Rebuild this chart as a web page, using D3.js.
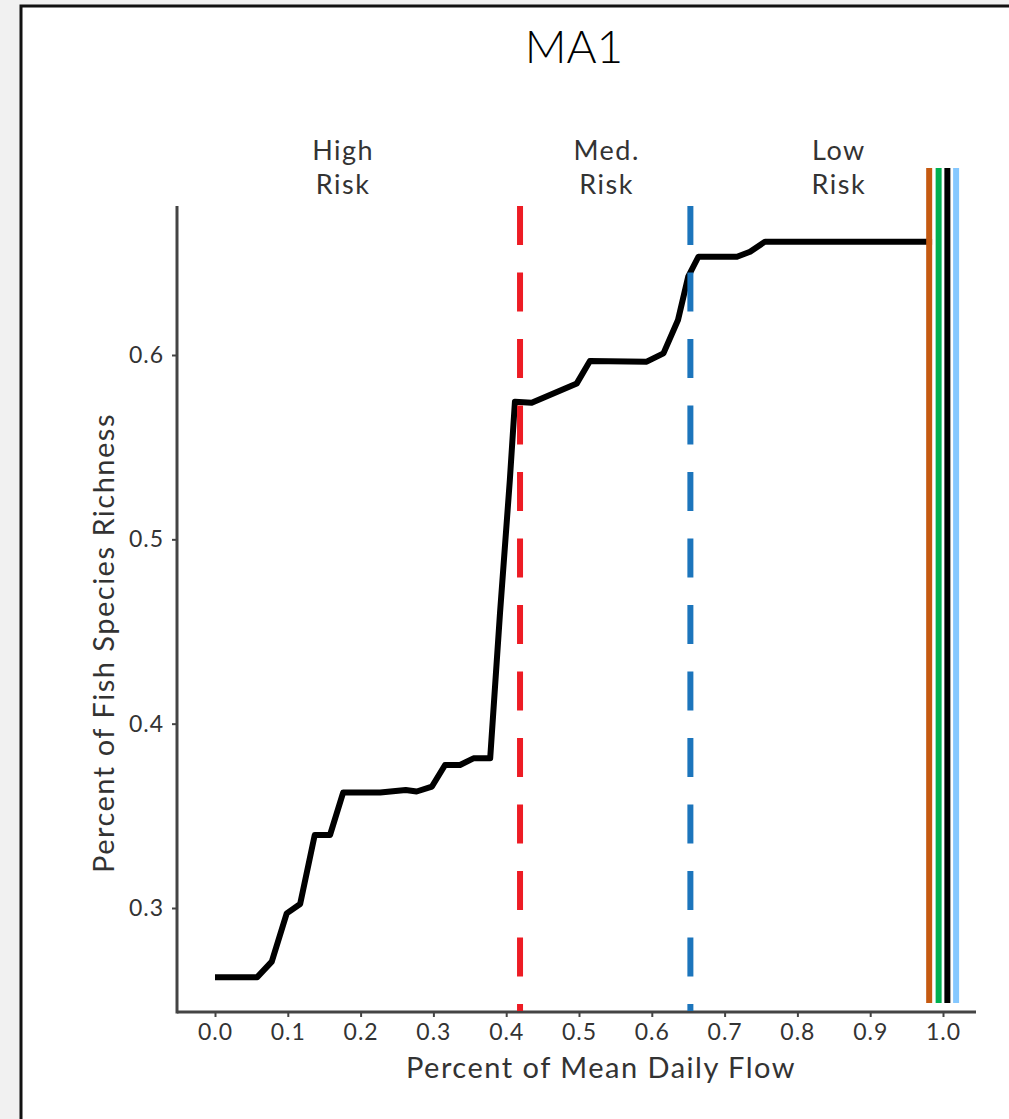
<!DOCTYPE html>
<meta charset="utf-8">
<script src="https://d3js.org/d3.v7.min.js"></script>
<style>
  body { margin: 0; background: #f1f1f1; }
  text { font-family: "Century Gothic", Lato, sans-serif; fill: #333; }
</style>
<div id="chart"></div>
<script>

// flow vs. fish species richness curve
var flow     = [0.0, 0.058, 0.078, 0.0985, 0.117, 0.137, 0.158, 0.176, 0.227, 0.262, 0.277, 0.298, 0.316, 0.3365, 0.355, 0.378, 0.3915, 0.405, 0.412, 0.435, 0.497, 0.515, 0.593, 0.616, 0.636, 0.650, 0.664, 0.717, 0.735, 0.7555, 0.985];
var richness = [0.2625, 0.2625, 0.2709, 0.2971, 0.3022, 0.3396, 0.3396, 0.3626, 0.3627, 0.3640, 0.3632, 0.3659, 0.3776, 0.3776, 0.3812, 0.3812, 0.46, 0.5322, 0.5747, 0.5741, 0.5846, 0.5967, 0.5964, 0.6009, 0.619, 0.6425, 0.6533, 0.6533, 0.656, 0.6615, 0.6615];

// risk thresholds (dashed)
var thresholds = [0.419, 0.653];
var thresholdColors = ["#ED1C24", "#1C75BC"];

// reference lines at the right
var refLines = [0.981, 0.994, 1.006, 1.018];
var refColors = ["#C55A11", "#00B050", "#000000", "#85C8FF"];

var riskLabels = [["High", "Risk"], ["Med.", "Risk"], ["Low", "Risk"]];
var riskPos = [0.176, 0.538, 0.857];

var xTicks = [0.0, 0.1, 0.2, 0.3, 0.4, 0.5, 0.6, 0.7, 0.8, 0.9, 1.0];
var yTicks = [0.3, 0.4, 0.5, 0.6];

var W = 1009, H = 1119;

var svg = d3.select("#chart").append("svg")
    .attr("width", W).attr("height", H);

// panel
svg.append("rect").attr("x", 0).attr("y", 0).attr("width", W).attr("height", H).attr("fill", "#f1f1f1");
svg.append("rect").attr("x", 21).attr("y", 6).attr("width", W + 20).attr("height", H + 20)
    .attr("fill", "#fff").attr("stroke", "#111").attr("stroke-width", 3);

var x = d3.scaleLinear().domain([0, 1]).range([215, 943]);
var y = d3.scaleLinear().domain([0.3, 0.6]).range([908, 355]);

var plotLeft = 177, plotRight = 976, plotTop = 206, plotBottom = 1012;

// x axis
var xAxis = svg.append("g")
    .attr("transform", "translate(0," + plotBottom + ")")
    .call(d3.axisBottom(x).tickValues(xTicks).tickFormat(d3.format(".1f")).tickSize(5).tickPadding(7).tickSizeOuter(0));
xAxis.select(".domain").attr("d", "M" + plotLeft + ",0H" + plotRight).attr("stroke", "#444").attr("stroke-width", 3);
xAxis.selectAll(".tick line").attr("stroke", "#444").attr("stroke-width", 2);
xAxis.selectAll(".tick text").style("font-size", "23px").style("letter-spacing", "1px").style("fill", "#333");

// y axis
var yAxis = svg.append("g")
    .attr("transform", "translate(" + plotLeft + ",0)")
    .call(d3.axisLeft(y).tickValues(yTicks).tickFormat(d3.format(".1f")).tickSize(5).tickPadding(8).tickSizeOuter(0));
yAxis.select(".domain").attr("d", "M0," + plotTop + "V" + (plotBottom + 1.5)).attr("stroke", "#444").attr("stroke-width", 3);
yAxis.selectAll(".tick line").attr("stroke", "#444").attr("stroke-width", 2);
yAxis.selectAll(".tick text").style("font-size", "23px").style("letter-spacing", "1px").style("fill", "#333");

// axis titles
svg.append("text")
    .attr("x", 601).attr("y", 1078)
    .attr("text-anchor", "middle")
    .style("font-size", "29px").style("letter-spacing", "1.5px")
    .text("Percent of Mean Daily Flow");

svg.append("text")
    .attr("transform", "translate(114,643) rotate(-90)")
    .attr("text-anchor", "middle")
    .style("font-size", "29px").style("letter-spacing", "1.5px")
    .text("Percent of Fish Species Richness");

// title
svg.append("text")
    .attr("x", 574).attr("y", 63)
    .attr("text-anchor", "middle")
    .style("font-size", "46px").style("font-weight", 300).style("fill", "#000")
    .text("MA1");

// risk labels
riskLabels.forEach(function(lines, i) {
  var t = svg.append("text")
      .attr("x", x(riskPos[i])).attr("y", 160)
      .attr("text-anchor", "middle")
      .style("font-size", "27px").style("letter-spacing", "1.5px");
  lines.forEach(function(s, j) {
    t.append("tspan").attr("x", x(riskPos[i])).attr("dy", j == 0 ? 0 : 34).text(s);
  });
});

// main curve
var data = flow.map(function(d, i) { return {x: d, y: richness[i]}; });
svg.append("path")
    .datum(data)
    .attr("d", d3.line().x(function(d) { return x(d.x); }).y(function(d) { return y(d.y); }))
    .attr("fill", "none")
    .attr("stroke", "#000")
    .attr("stroke-width", 6)
    .attr("stroke-linejoin", "round");

// dashed thresholds
thresholds.forEach(function(t, i) {
  svg.append("line")
      .attr("x1", x(t)).attr("x2", x(t))
      .attr("y1", plotTop).attr("y2", plotBottom - 1)
      .attr("stroke", thresholdColors[i])
      .attr("stroke-width", 6)
      .attr("stroke-dasharray", "39,27.5");
});

// reference lines
refLines.forEach(function(r, i) {
  svg.append("line")
      .attr("x1", x(r)).attr("x2", x(r))
      .attr("y1", 168).attr("y2", 1003)
      .attr("stroke", refColors[i])
      .attr("stroke-width", 6);
});

</script>
